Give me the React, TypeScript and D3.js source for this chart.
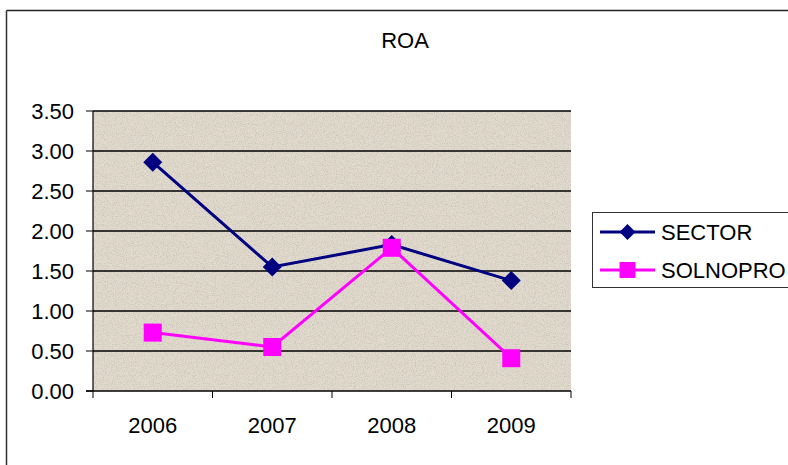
import React from "react";
import * as d3 from "d3";

const years = ["2006", "2007", "2008", "2009"];
const sector = [2.86, 1.55, 1.83, 1.38];
const solnopro = [0.73, 0.55, 1.79, 0.41];
const yTicks = [0, 0.5, 1, 1.5, 2, 2.5, 3, 3.5];

const W = 788;
const H = 465;
const plot = { left: 93, right: 571, top: 111, bottom: 391 };
const FONT = "'Liberation Sans', Arial, sans-serif";
const NAVY = "#000080";
const MAGENTA = "#ff00ff";

export default function App() {
  const x = d3.scaleBand<string>().domain(years).range([plot.left, plot.right]);
  const y = d3.scaleLinear().domain([0, 3.5]).range([plot.bottom, plot.top]);
  const cx = (d: string) => (x(d) ?? 0) + x.bandwidth() / 2;

  const line = d3
    .line<number>()
    .x((_, i) => cx(years[i]))
    .y((v) => y(v));

  const diamond = (px: number, py: number, r: number) =>
    `M${px},${py - r}L${px + r},${py}L${px},${py + r}L${px - r},${py}Z`;

  const boundaries = [...years.map((d) => x(d) ?? 0), plot.right];

  return (
    <svg
      width={W}
      height={H}
      style={{ position: "absolute", left: 0, top: 0, background: "#fff" }}
      fontFamily={FONT}
    >
      <defs>
        <filter id="speckle" x="0" y="0" width="100%" height="100%">
          <feTurbulence type="fractalNoise" baseFrequency="0.9" numOctaves="2" seed="7" result="n" />
          <feColorMatrix
            in="n"
            type="matrix"
            values="0 0 0 0 0.45  0 0 0 0 0.42  0 0 0 0 0.38  0 0 0 -2.4 1.35"
          />
        </filter>
      </defs>

      {/* chart frame */}
      <line x1={6.5} y1={10.5} x2={W} y2={10.5} stroke="#222" strokeWidth={1.5} />
      <line x1={6.5} y1={10.5} x2={6.5} y2={H} stroke="#333" strokeWidth={1.5} />

      <text x={405} y={48} fontSize={22} textAnchor="middle" fill="#000">
        ROA
      </text>

      {/* plot area */}
      <rect
        x={plot.left}
        y={plot.top}
        width={plot.right - plot.left}
        height={plot.bottom - plot.top}
        fill="#e2dacd"
      />
      <rect
        x={plot.left}
        y={plot.top}
        width={plot.right - plot.left}
        height={plot.bottom - plot.top}
        filter="url(#speckle)"
        opacity={0.55}
      />

      {yTicks.map((t) => (
        <g key={t}>
          {t > 0 && (
            <line x1={plot.left} x2={plot.right} y1={y(t)} y2={y(t)} stroke="#000" strokeWidth={1.5} />
          )}
          <line x1={plot.left - 7} x2={plot.left} y1={y(t)} y2={y(t)} stroke="#000" strokeWidth={1} />
          <text x={74} y={y(t)} dy="0.36em" fontSize={22} textAnchor="end" fill="#000">
            {t.toFixed(2)}
          </text>
        </g>
      ))}

      <line x1={plot.left} x2={plot.left} y1={plot.top} y2={plot.bottom} stroke="#000" strokeWidth={1.2} />
      <line x1={plot.left - 7} x2={plot.right} y1={plot.bottom} y2={plot.bottom} stroke="#000" strokeWidth={1.5} />
      {boundaries.map((bx, i) => (
        <line key={i} x1={bx} x2={bx} y1={plot.bottom} y2={plot.bottom + 7} stroke="#000" strokeWidth={1} />
      ))}
      {years.map((d) => (
        <text key={d} x={cx(d)} y={433} fontSize={22} textAnchor="middle" fill="#000">
          {d}
        </text>
      ))}

      {/* series */}
      <path d={line(sector) ?? ""} fill="none" stroke={NAVY} strokeWidth={3} />
      {sector.map((v, i) => (
        <path key={i} d={diamond(cx(years[i]), y(v), 9.5)} fill={NAVY} />
      ))}
      <path d={line(solnopro) ?? ""} fill="none" stroke={MAGENTA} strokeWidth={3} />
      {solnopro.map((v, i) => (
        <rect key={i} x={cx(years[i]) - 9} y={y(v) - 9} width={18} height={18} fill={MAGENTA} />
      ))}

      {/* legend */}
      <rect x={592.5} y={212.5} width={220} height={75} fill="#fff" stroke="#333" strokeWidth={1} />
      <line x1={600} x2={655} y1={232} y2={232} stroke={NAVY} strokeWidth={3} />
      <path d={diamond(627.5, 232, 8)} fill={NAVY} />
      <text x={661} y={232} dy="0.36em" fontSize={22} fill="#000">
        SECTOR
      </text>
      <line x1={600} x2={655} y1={270} y2={270} stroke={MAGENTA} strokeWidth={3} />
      <rect x={619.5} y={262} width={16} height={16} fill={MAGENTA} />
      <text x={661} y={270} dy="0.36em" fontSize={22} fill="#000">
        SOLNOPRO
      </text>
    </svg>
  );
}
